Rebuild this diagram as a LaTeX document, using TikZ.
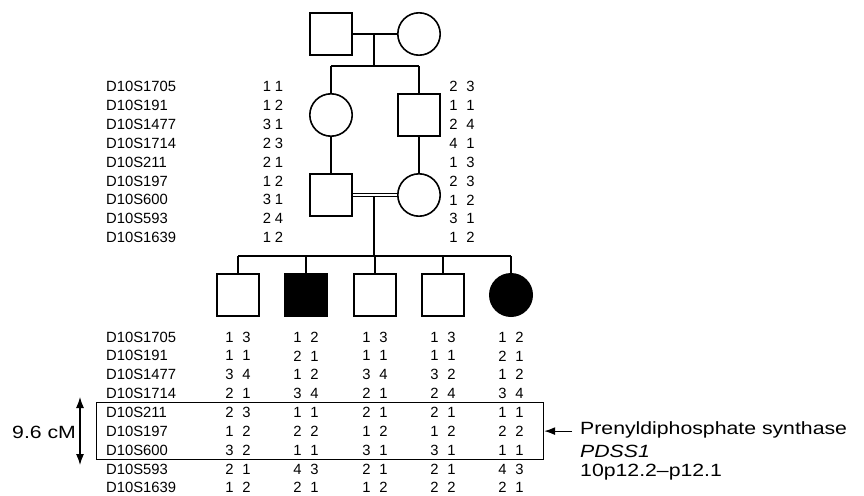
\documentclass[tikz,border=0pt]{standalone}
\usepackage{fontspec}
\setmainfont{Liberation Sans}
\newfontfamily\widefont[FakeStretch=1.2]{Liberation Sans}
\usetikzlibrary{arrows.meta}
\newcommand\alnarrow[2]{#1\hspace{3.6pt}#2}
\newcommand\alwide[2]{#1\hspace{8.6pt}#2}
\begin{document}
\begin{tikzpicture}[x=1pt,y=-1pt,
  male/.style={draw,line width=1.6pt,rectangle,minimum size=42.4pt,inner sep=0pt},
  female/.style={draw,line width=1.6pt,circle,minimum size=42.4pt,inner sep=0pt},
  aff/.style={fill=black},
  lnk/.style={line width=1.3pt},
  mk/.style={font=\fontsize{14.8}{16}\selectfont,anchor=west,inner sep=0pt},
  al/.style={font=\fontsize{14.8}{16}\selectfont,inner sep=0pt},
  big/.style={font=\widefont\fontsize{17.7}{20}\selectfont,inner sep=0pt,anchor=west}]
\useasboundingbox (0,0) rectangle (864,495);

% generation I
\node[male] (gf) at (331,34) {};
\node[female] (gm) at (419,34) {};
% generation II
\node[female] (m1) at (331,115) {};
\node[male] (f1) at (419,115) {};
% generation III
\node[male] (f2) at (331,195) {};
\node[female] (m2) at (419,195) {};
% children
\node[male] (c1) at (238,295) {};
\node[male,aff] (c2) at (306,295) {};
\node[male] (c3) at (375,295) {};
\node[male] (c4) at (443,295) {};
\node[female,aff] (c5) at (511,295) {};

% connectors
\coordinate (j1) at (374,34);
\coordinate (s1) at (374,66);
\draw[lnk] (gf.east) -- (gm.west);
\draw[lnk] (j1) -- (s1);
\draw[lnk] (m1.north |- s1) -- (f1.north |- s1);
\draw[lnk] (m1.north |- s1) -- (m1.north);
\draw[lnk] (f1.north |- s1) -- (f1.north);
\draw[lnk] (m1.south) -- (f2.north);
\draw[lnk] (f1.south) -- (m2.north);
\draw[line width=1.1pt,double distance=2.2pt] (f2.east) -- (m2.west);
\coordinate (j2) at (374,197);
\coordinate (s2) at (374,256);
\draw[lnk] (j2) -- (s2);
\draw[lnk] (c1.north |- s2) -- (c5.north |- s2);
\foreach \c in {c1,c2,c3,c4,c5} \draw[lnk] (\c.north |- s2) -- (\c.north);

% top marker table
\foreach \m/\a/\b/\c/\d [count=\i from 0] in {
  D10S1705/1/1/2/3, D10S191/1/2/1/1, D10S1477/3/1/2/4, D10S1714/2/3/4/1,
  D10S211/2/1/1/3, D10S197/1/2/2/3, D10S600/3/1/1/2, D10S593/2/4/3/1,
  D10S1639/1/2/1/2} {
  \node[mk] (tm\i) at (106,86.5+18.9*\i) {\m};
  \node[al] (tl\i) at (273,86.5+18.9*\i) {\alnarrow{\a}{\b}};
  \node[al] (tr\i) at (462,86.5+18.9*\i) {\alwide{\c}{\d}};
}

% bottom marker table
\foreach \m/\a/\b/\c/\d/\e/\f/\g/\h/\p/\q [count=\i from 0] in {
  D10S1705/1/3/1/2/1/3/1/3/1/2,
  D10S191/1/1/2/1/1/1/1/1/2/1,
  D10S1477/3/4/1/2/3/4/3/2/1/2,
  D10S1714/2/1/3/4/2/1/2/4/3/4,
  D10S211/2/3/1/1/2/1/2/1/1/1,
  D10S197/1/2/2/2/1/2/1/2/2/2,
  D10S600/3/2/1/1/3/1/3/1/1/1,
  D10S593/2/1/4/3/2/1/2/1/4/3,
  D10S1639/1/2/2/1/1/2/2/2/2/1} {
  \node[mk] (bm\i) at (106,337+18.85*\i) {\m};
  \node[al] (ba\i) at (238,337+18.85*\i) {\alwide{\a}{\b}};
  \node[al] (bb\i) at (306,337+18.85*\i) {\alwide{\c}{\d}};
  \node[al] (bc\i) at (375,337+18.85*\i) {\alwide{\e}{\f}};
  \node[al] (bd\i) at (443,337+18.85*\i) {\alwide{\g}{\h}};
  \node[al] (be\i) at (511,337+18.85*\i) {\alwide{\p}{\q}};
}

% linked region box
\node[draw,line width=1.2pt,anchor=north west,minimum width=447pt,minimum height=57pt,inner sep=0pt] (box) at (96,402) {};

% interval arrow
\coordinate (a1) at (80,397);
\coordinate (a2) at (80,465);
\draw[line width=1.2pt,{Latex[length=11pt,width=8pt]}-{Latex[length=11pt,width=8pt]}] (a1) -- (a2);
\node[big] (cm) at (12,432) {9.6 cM};

% gene label
\node[big] (t1) at (580,430) {Prenyldiphosphate synthase};
\node[big] (t2) at (580,451) {\itshape PDSS1};
\node[big] (t3) at (580,472) {10p12.2–p12.1};
\draw[line width=1.2pt,-{Latex[length=11pt,width=8pt]}] ([xshift=-8pt]t1.west |- box.east) -- (box.east);
\end{tikzpicture}
\end{document}
